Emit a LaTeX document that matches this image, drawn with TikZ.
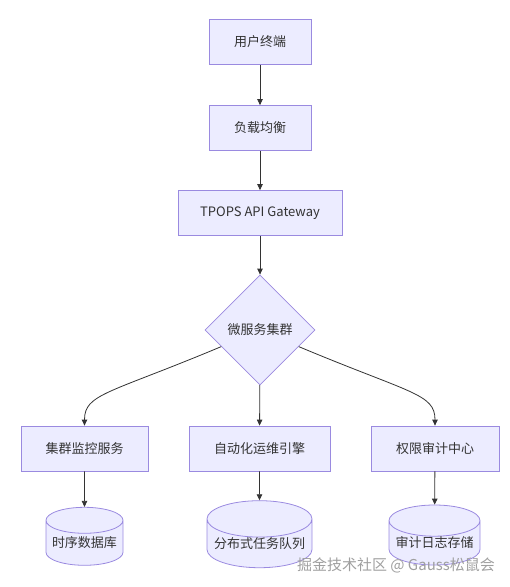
\documentclass[tikz,border=0pt]{standalone}
\usepackage{fontspec}
\setmainfont{Noto Sans CJK SC}
\usepackage{xcolor}
\usepackage{tikz}
\usetikzlibrary{shapes,arrows,calc}
\usetikzlibrary{arrows.meta}

\definecolor{boxFill}{HTML}{ECECFF}
\definecolor{boxLine}{HTML}{9A8AE0}
\definecolor{inkGray}{HTML}{333333}

\begin{document}
\begin{tikzpicture} [x=1pt, y=-1pt, font=\fontsize{13}{15}\selectfont, text=inkGray,
        box/.style={draw=boxLine, fill=boxFill, line width=0.8pt, minimum height=45pt, inner sep=0pt},
        decision/.style={diamond, draw=boxLine, fill=boxFill, line width=0.8pt, aspect=1,
                minimum width=110pt, minimum height=110pt, inner sep=0pt},
        store/.style={cylinder, shape border rotate=90, aspect=0.4, draw=boxLine, fill=boxFill,
                line width=0.8pt, inner sep=0pt},
        link/.style={draw=inkGray, line width=0.8pt, -{Triangle[length=6pt,width=5.5pt]}}]

        % page frame
        \useasboundingbox (0,0) rectangle (510,587);

        % Entry chain
        \node[box, minimum width=102pt] (term) at (260,42) {用户终端};
        \node[box, minimum width=102pt] (lb) at (260,128) {负载均衡};
        \node[box, minimum width=164pt] (gw) at (260,213) {TPOPS API Gateway};

        % Cluster
        \node[decision] (ms) at (260,330) {微服务集群};

        % Services
        \node[box, minimum width=127pt] (mon) at (84.5,448.5) {集群监控服务};
        \node[box, minimum width=141pt] (ops) at (259.5,448.5) {自动化运维引擎};
        \node[box, minimum width=128pt] (audit) at (435,448.5) {权限审计中心};

        % Storage
        \node[store, minimum width=77pt, minimum height=58pt] (tsdb) at (84.5,543) {时序数据库};
        \node[store, minimum width=105pt, minimum height=63pt] (mq) at (259.5,543.5) {分布式任务队列};
        \node[store, minimum width=91pt, minimum height=60pt] (log) at (434.5,543) {审计日志存储};

        % Links
        \draw[link] (term) -- (lb);
        \draw[link] (lb) -- (gw);
        \draw[link] (gw) -- (ms);
        \draw[link] (ms) -- (ops);
        \draw[link] ($(ms.west)!0.3!(ms.south)$) .. controls +(-112,47) and +(0,-32) .. (mon.north);
        \draw[link] ($(ms.east)!0.3!(ms.south)$) .. controls +(112,47) and +(0,-32) .. (audit.north);
        \draw[link] (mon) -- (tsdb);
        \draw[link] (ops) -- (mq);
        \draw[link] (audit) -- (log);

        % watermark
        \node[text=gray!75, font=\fontsize{15}{17}\selectfont] (mark) at (396,565) {掘金技术社区 @ Gauss松鼠会};

\end{tikzpicture}
\end{document}
